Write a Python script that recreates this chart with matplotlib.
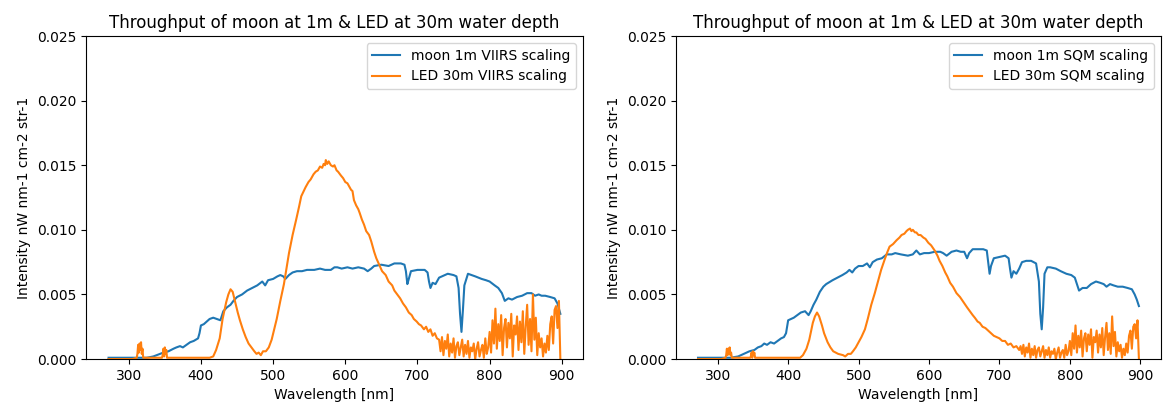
import numpy as np
import matplotlib
matplotlib.use('Agg')
import matplotlib.pyplot as plt

plt.rcParams.update({'font.size': 10})

# moon spectrum, VIIRS scaling (left panel)
moon_viirs_wl = [272, 300, 325, 334, 348, 355, 362, 366, 371, 375, 380, 385, 390, 396, 398,
                 400, 404, 408, 412, 417, 422, 427, 431, 436, 441, 445, 450, 457, 464, 471,
                 478, 485, 489, 493, 500, 506, 510, 514, 517, 522, 527, 533, 540, 547, 557,
                 565, 572, 580, 585, 589, 595, 603, 610, 618, 626, 631, 636, 640, 650, 660,
                 668, 677, 682, 684, 686, 688, 691, 700, 710, 714, 716, 718, 721, 725, 730,
                 742, 750, 754, 757, 759, 761, 763, 765, 770, 780, 789, 795, 800, 807, 812,
                 817, 821, 826, 831, 838, 845, 852, 858, 863, 868, 872, 877, 884, 890, 894, 898]
moon_viirs = [0.0001, 0.0001, 0.0001, 0.0002, 0.0005, 0.0006, 0.0008, 0.0009, 0.0010, 0.0009,
              0.0011, 0.0013, 0.0014, 0.0016, 0.0020, 0.0026, 0.0027, 0.0029, 0.0031, 0.0032,
              0.0031, 0.0030, 0.0037, 0.0040, 0.0042, 0.0045, 0.0048, 0.0050, 0.0053, 0.0055,
              0.0057, 0.0060, 0.0057, 0.0061, 0.0062, 0.0064, 0.0065, 0.0064, 0.0062, 0.0065,
              0.0067, 0.0068, 0.0068, 0.0069, 0.0069, 0.0070, 0.0069, 0.0069, 0.0071, 0.0071,
              0.0070, 0.0071, 0.0070, 0.0071, 0.0070, 0.0068, 0.0070, 0.0072, 0.0073, 0.0072,
              0.0074, 0.0074, 0.0073, 0.0068, 0.0058, 0.0062, 0.0068, 0.0069, 0.0069, 0.0067,
              0.0060, 0.0055, 0.0059, 0.0058, 0.0063, 0.0066, 0.0065, 0.0064, 0.0055, 0.0035,
              0.0021, 0.0038, 0.0057, 0.0066, 0.0064, 0.0062, 0.0061, 0.0060, 0.0057, 0.0055,
              0.0051, 0.0045, 0.0047, 0.0046, 0.0048, 0.0049, 0.0051, 0.0051, 0.0049, 0.0050,
              0.0049, 0.0049, 0.0048, 0.0047, 0.0043, 0.0035]

# moon spectrum, SQM scaling (right panel)
moon_sqm_wl = [272, 300, 318, 329, 337, 345, 352, 357, 362, 366, 370, 375, 380, 385, 390,
               394, 397, 400, 404, 408, 413, 418, 424, 429, 432, 436, 440, 445, 450, 454,
               463, 470, 477, 483, 487, 491, 495, 500, 506, 512, 516, 520, 526, 533, 540,
               547, 552, 560, 570, 577, 582, 587, 593, 600, 608, 616, 620, 625, 632, 639,
               645, 650, 654, 657, 662, 670, 677, 682, 684, 686, 688, 692, 700, 708, 713,
               715, 717, 720, 724, 728, 732, 738, 745, 752, 756, 758, 760, 762, 764, 768,
               772, 780, 787, 795, 802, 807, 810, 813, 818, 824, 830, 837, 843, 848, 852,
               857, 862, 868, 875, 882, 888, 892, 895, 898]
moon_sqm = [0.0001, 0.0001, 0.0001, 0.0002, 0.0004, 0.0006, 0.0007, 0.0009, 0.0010, 0.0012,
            0.0011, 0.0013, 0.0012, 0.0014, 0.0016, 0.0017, 0.0020, 0.0030, 0.0031, 0.0032,
            0.0034, 0.0036, 0.0037, 0.0034, 0.0037, 0.0042, 0.0046, 0.0052, 0.0056, 0.0058,
            0.0061, 0.0063, 0.0065, 0.0067, 0.0069, 0.0067, 0.0070, 0.0072, 0.0072, 0.0074,
            0.0071, 0.0075, 0.0077, 0.0078, 0.0081, 0.0081, 0.0082, 0.0081, 0.0080, 0.0081,
            0.0084, 0.0081, 0.0082, 0.0082, 0.0083, 0.0083, 0.0082, 0.0080, 0.0083, 0.0084,
            0.0083, 0.0083, 0.0078, 0.0082, 0.0085, 0.0085, 0.0085, 0.0084, 0.0075, 0.0066,
            0.0072, 0.0078, 0.0079, 0.0080, 0.0078, 0.0070, 0.0063, 0.0068, 0.0066, 0.0070,
            0.0075, 0.0076, 0.0076, 0.0074, 0.0060, 0.0035, 0.0023, 0.0040, 0.0066, 0.0071,
            0.0071, 0.0070, 0.0068, 0.0066, 0.0065, 0.0063, 0.0058, 0.0053, 0.0055, 0.0055,
            0.0058, 0.0060, 0.0059, 0.0058, 0.0056, 0.0058, 0.0057, 0.0056, 0.0056, 0.0055,
            0.0054, 0.0050, 0.0046, 0.0041]

# LED spectrum at 30 m, smooth part up to ~728 nm
led_viirs_wl = [272, 290, 305, 311, 312, 313, 314, 315, 316, 317, 318, 319, 320, 330, 346,
                347, 348, 349, 350, 351, 352, 353, 360, 380, 400, 412, 417, 421, 426, 430,
                435, 438, 441, 444, 448, 451, 454, 458, 462, 466, 470, 474, 477, 480, 483,
                486, 490, 494, 498, 502, 505, 510, 515, 519, 522, 527, 532, 536, 539, 545,
                549, 552, 556, 559, 562, 565, 568, 570, 572, 573, 575, 577, 580, 583, 585,
                588, 590, 594, 597, 600, 603, 605, 608, 610, 612, 615, 618, 620, 623, 626,
                629, 633, 636, 640, 643, 647, 651, 656, 660, 665, 668, 672, 676, 680, 684,
                688, 692, 695, 699, 702, 705, 709, 712, 715, 718, 721, 724, 727]
led_viirs = [0.0, 0.0, 0.0, 0.0001, 0.0004, 0.0011, 0.0005, 0.0012, 0.0007, 0.0013,
             0.0004, 0.0008, 0.0001, 0.0001, 0.0001, 0.0003, 0.0008, 0.0002, 0.0009, 0.0004,
             0.0007, 0.0001, 0.0001, 0.0001, 0.0001, 0.0001, 0.0002, 0.0007, 0.0016, 0.0031,
             0.0044, 0.0050, 0.0054, 0.0052, 0.0043, 0.0036, 0.0030, 0.0023, 0.0017, 0.0012,
             0.0009, 0.0006, 0.0004, 0.0005, 0.0003, 0.0006, 0.0006, 0.0009, 0.0015, 0.0024,
             0.0031, 0.0045, 0.0058, 0.0072, 0.0082, 0.0096, 0.0108, 0.0118, 0.0126, 0.0133,
             0.0137, 0.0139, 0.0143, 0.0145, 0.0146, 0.0149, 0.0148, 0.0151, 0.0150, 0.0154,
             0.0151, 0.0153, 0.0150, 0.0149, 0.0150, 0.0146, 0.0145, 0.0142, 0.0140, 0.0137,
             0.0136, 0.0134, 0.0131, 0.0130, 0.0123, 0.0119, 0.0116, 0.0113, 0.0108, 0.0104,
             0.0099, 0.0096, 0.0091, 0.0083, 0.0078, 0.0073, 0.0068, 0.0065, 0.0060, 0.0057,
             0.0053, 0.0050, 0.0047, 0.0043, 0.0040, 0.0036, 0.0034, 0.0031, 0.0029, 0.0027,
             0.0026, 0.0023, 0.0025, 0.0021, 0.0023, 0.0018, 0.0020, 0.0016]

led_sqm_wl = [272, 290, 305, 311, 312, 313, 314, 315, 316, 317, 318, 319, 320, 330, 346,
              347, 348, 349, 350, 351, 352, 353, 360, 380, 400, 412, 417, 421, 426, 430,
              435, 438, 441, 444, 448, 451, 456, 460, 464, 471, 478, 481, 485, 489, 492,
              496, 499, 504, 509, 513, 518, 523, 528, 532, 537, 541, 544, 549, 554, 558,
              561, 565, 568, 570, 573, 575, 577, 580, 582, 585, 588, 592, 595, 599, 603,
              608, 612, 615, 619, 623, 626, 630, 634, 639, 644, 649, 654, 658, 662, 665,
              669, 672, 676, 680, 684, 688, 692, 696, 700, 704, 708, 712, 716, 720, 724, 728]
led_sqm = [0.0, 0.0, 0.0, 0.0001, 0.0003, 0.0008, 0.0003, 0.0008, 0.0005, 0.0009,
           0.0003, 0.0005, 0.0001, 0.0001, 0.0001, 0.0002, 0.0005, 0.0001, 0.0006, 0.0003,
           0.0005, 0.0001, 0.0001, 0.0001, 0.0001, 0.0001, 0.0001, 0.0003, 0.0008, 0.0015,
           0.0028, 0.0033, 0.0036, 0.0033, 0.0026, 0.0020, 0.0013, 0.0009, 0.0006, 0.0004,
           0.0003, 0.0002, 0.0004, 0.0004, 0.0006, 0.0009, 0.0012, 0.0017, 0.0023, 0.0031,
           0.0042, 0.0051, 0.0061, 0.0069, 0.0077, 0.0083, 0.0087, 0.0089, 0.0092, 0.0094,
           0.0096, 0.0097, 0.0099, 0.0100, 0.0101, 0.0099, 0.0100, 0.0098, 0.0098, 0.0096,
           0.0096, 0.0094, 0.0093, 0.0090, 0.0088, 0.0084, 0.0080, 0.0076, 0.0072, 0.0067,
           0.0064, 0.0059, 0.0056, 0.0051, 0.0048, 0.0044, 0.0040, 0.0037, 0.0034, 0.0032,
           0.0029, 0.0028, 0.0025, 0.0024, 0.0022, 0.0020, 0.0018, 0.0017, 0.0016, 0.0014,
           0.0014, 0.0011, 0.0012, 0.0009, 0.0010, 0.0007]

# noisy red / NIR tail of the LED, 730-898 nm every 2 nm
led_tail_wl = np.arange(730, 900, 2)
led_viirs_tail = [0.0015, 0.0006, 0.0017, 0.0003, 0.0014, 0.0008, 0.0019, 0.0002, 0.0012, 0.0005,
                  0.0016, 0.0001, 0.0010, 0.0013, 0.0003, 0.0009, 0.0015, 0.0002, 0.0011, 0.0004,
                  0.0014, 0.0001, 0.0009, 0.0006, 0.0012, 0.0000, 0.0008, 0.0013, 0.0002, 0.0007,
                  0.0011, 0.0001, 0.0016, 0.0004, 0.0009, 0.0021, 0.0005, 0.0030, 0.0012, 0.0039,
                  0.0008, 0.0027, 0.0014, 0.0034, 0.0003, 0.0024, 0.0031, 0.0009, 0.0028, 0.0016,
                  0.0035, 0.0002, 0.0026, 0.0019, 0.0033, 0.0007, 0.0029, 0.0013, 0.0037, 0.0004,
                  0.0025, 0.0042, 0.0011, 0.0031, 0.0006, 0.0050, 0.0015, 0.0032, 0.0003, 0.0020,
                  0.0009, 0.0016, 0.0002, 0.0012, 0.0005, 0.0018, 0.0007, 0.0027, 0.0033, 0.0012,
                  0.0038, 0.0041, 0.0024, 0.0045, 0.0000]
led_sqm_tail = [0.0010, 0.0004, 0.0011, 0.0002, 0.0009, 0.0005, 0.0012, 0.0001, 0.0008, 0.0003,
                0.0010, 0.0001, 0.0007, 0.0009, 0.0002, 0.0006, 0.0010, 0.0001, 0.0007, 0.0003,
                0.0009, 0.0001, 0.0006, 0.0004, 0.0008, 0.0000, 0.0005, 0.0009, 0.0001, 0.0005,
                0.0007, 0.0001, 0.0011, 0.0003, 0.0006, 0.0014, 0.0003, 0.0020, 0.0008, 0.0026,
                0.0005, 0.0018, 0.0009, 0.0022, 0.0002, 0.0016, 0.0020, 0.0006, 0.0019, 0.0011,
                0.0023, 0.0001, 0.0017, 0.0013, 0.0022, 0.0005, 0.0019, 0.0009, 0.0024, 0.0003,
                0.0017, 0.0028, 0.0007, 0.0020, 0.0004, 0.0033, 0.0010, 0.0021, 0.0002, 0.0013,
                0.0006, 0.0011, 0.0001, 0.0008, 0.0003, 0.0012, 0.0005, 0.0018, 0.0022, 0.0008,
                0.0025, 0.0027, 0.0016, 0.0030, 0.0000]

title = 'Throughput of moon at 1m & LED at 30m water depth'

fig = plt.figure(figsize=(11.76, 4.08), dpi=100)
ax1 = fig.add_axes([0.0731, 0.12, 0.4226, 0.7917])
ax2 = fig.add_axes([0.5748, 0.12, 0.4124, 0.7917])

panels = [
    (ax1, moon_viirs_wl, moon_viirs, led_viirs_wl, led_viirs, led_viirs_tail, 'VIIRS'),
    (ax2, moon_sqm_wl, moon_sqm, led_sqm_wl, led_sqm, led_sqm_tail, 'SQM'),
]

for ax, mwl, mval, lwl, lval, ltail, name in panels:
    ax.plot(mwl, mval, color='#1f77b4', label='moon 1m %s scaling' % name)
    ax.plot(np.concatenate([lwl, led_tail_wl]), np.concatenate([lval, ltail]),
            color='#ff7f0e', label='LED 30m %s scaling' % name)
    ax.set_ylim(0, 0.025)
    ax.set_yticks(np.arange(0, 0.0251, 0.005))
    ax.set_xticks(np.arange(300, 901, 100))
    ax.set_title(title)
    ax.set_xlabel('Wavelength [nm]')
    ax.set_ylabel('Intensity nW nm-1 cm-2 str-1')
    ax.legend(loc='upper right')

fig.savefig('out.png', dpi=100)
